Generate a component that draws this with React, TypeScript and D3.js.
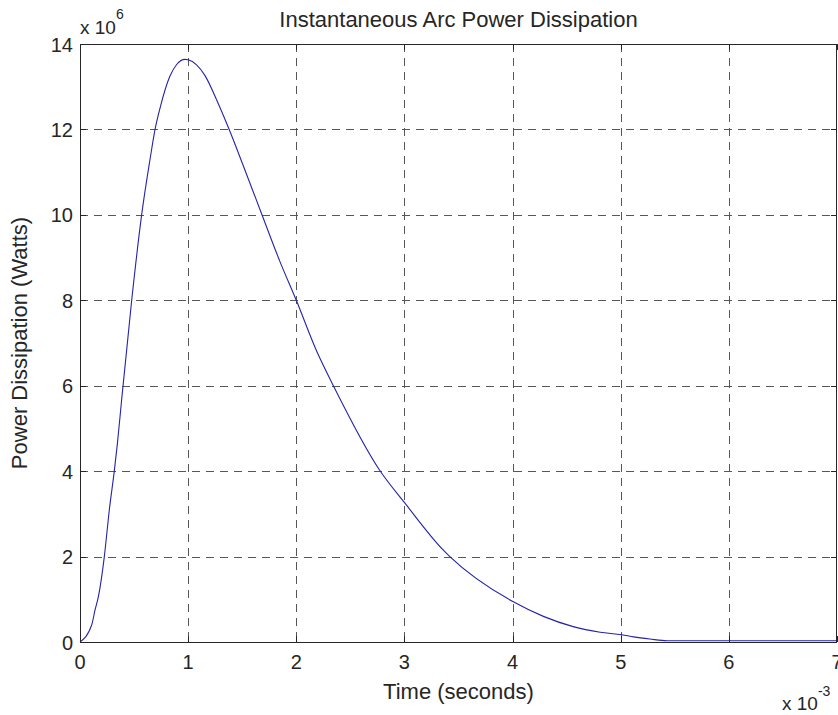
import React, { useEffect, useRef } from 'react';
import * as d3 from 'd3';

// time in units of 1e-3 s, power in units of 1e6 W
const timeMs: number[] = [
  0, 0.108, 0.139, 0.17, 0.225, 0.271, 0.317, 0.346, 0.385, 0.478, 0.57, 0.647, 0.694, 0.74,
  0.832, 0.894, 0.97, 1.0, 1.156, 1.279, 1.387, 1.51, 1.68, 1.85, 2.0, 2.19, 2.343, 2.774,
  3.005, 3.36, 3.42, 4.007, 4.285, 4.56, 4.81, 5.01, 5.12, 5.27, 5.43, 7.0,
];
const powerMW: number[] = [
  0, 0.4, 0.75, 1.06, 2.0, 3.09, 4.0, 4.65, 5.67, 8.0, 10.0, 11.29, 12.0, 12.5,
  13.25, 13.52, 13.64, 13.63, 13.26, 12.6, 11.95, 11.15, 10.02, 8.9, 8.0, 6.8, 6.0, 4.01,
  3.25, 2.15, 2.0, 0.94, 0.6, 0.36, 0.23, 0.17, 0.12, 0.07, 0.03, 0.03,
];
const xTicks: number[] = [0, 1, 2, 3, 4, 5, 6, 7];
const yTicks: number[] = [0, 2, 4, 6, 8, 10, 12, 14];

const title = 'Instantaneous Arc Power Dissipation';
const xLabel = 'Time (seconds)';
const yLabel = 'Power Dissipation (Watts)';

const W = 838;
const H = 715;
const FONT = '"Liberation Sans", Arial, sans-serif';

const App: React.FC = () => {
  const svgRef = useRef<SVGSVGElement>(null);

  useEffect(() => {
    if (!svgRef.current) return;
    const svg = d3.select(svgRef.current);
    svg.selectAll('*').remove();

    const left = 80;
    const right = 837;
    const top = 44;
    const bottom = 642;

    const x = d3.scaleLinear().domain([0, 7]).range([left, right]);
    const y = d3.scaleLinear().domain([0, 14]).range([bottom, top]);

    svg.append('rect').attr('width', W).attr('height', H).attr('fill', '#fff');

    // grid
    const grid = svg.append('g').attr('stroke', '#3a3a3a').attr('stroke-width', 1)
      .attr('stroke-dasharray', '8,6').attr('opacity', 0.85);
    grid.selectAll('.gx').data(xTicks.slice(1, -1)).enter().append('line')
      .attr('x1', (d) => Math.round(x(d)) + 0.5).attr('x2', (d) => Math.round(x(d)) + 0.5)
      .attr('y1', top).attr('y2', bottom);
    grid.selectAll('.gy').data(yTicks.slice(1, -1)).enter().append('line')
      .attr('y1', (d) => Math.round(y(d)) + 0.5).attr('y2', (d) => Math.round(y(d)) + 0.5)
      .attr('x1', left).attr('x2', right);

    // curve
    const line = d3.line<number>()
      .x((_d, i) => x(timeMs[i]))
      .y((d) => y(d))
      .curve(d3.curveMonotoneX);
    svg.append('path').datum(powerMW).attr('d', line)
      .attr('fill', 'none').attr('stroke', '#2424a8').attr('stroke-width', 1.1);

    // ticks (inward, all sides)
    const ticks = svg.append('g').attr('stroke', '#262626').attr('stroke-width', 1);
    const tl = 6;
    xTicks.forEach((t) => {
      const px = Math.round(x(t)) + 0.5;
      ticks.append('line').attr('x1', px).attr('x2', px).attr('y1', bottom).attr('y2', bottom - tl);
      ticks.append('line').attr('x1', px).attr('x2', px).attr('y1', top).attr('y2', top + tl);
    });
    yTicks.forEach((t) => {
      const py = Math.round(y(t)) + 0.5;
      ticks.append('line').attr('y1', py).attr('y2', py).attr('x1', left).attr('x2', left + tl);
      ticks.append('line').attr('y1', py).attr('y2', py).attr('x1', right).attr('x2', right - tl);
    });

    // box
    svg.append('rect').attr('x', left + 0.5).attr('y', top + 0.5)
      .attr('width', right - left - 1).attr('height', bottom - top)
      .attr('fill', 'none').attr('stroke', '#262626').attr('stroke-width', 1);

    const txt = svg.append('g').attr('font-family', FONT).attr('fill', '#262626');

    // tick labels
    txt.selectAll('.xl').data(xTicks).enter().append('text')
      .attr('x', (d) => x(d)).attr('y', 669)
      .attr('text-anchor', 'middle').attr('font-size', 20)
      .text((d) => String(d));
    txt.selectAll('.yl').data(yTicks).enter().append('text')
      .attr('x', 73).attr('y', (d) => y(d) + 7.5)
      .attr('text-anchor', 'end').attr('font-size', 20)
      .text((d) => String(d));

    // exponent labels
    const e1 = txt.append('text').attr('x', 80).attr('y', 34).attr('font-size', 19);
    e1.append('tspan').text('x 10');
    e1.append('tspan').attr('dy', -15).attr('font-size', 14).text('6');

    const e2 = txt.append('text').attr('x', 782).attr('y', 710).attr('font-size', 19);
    e2.append('tspan').text('x 10');
    e2.append('tspan').attr('dy', -14).attr('font-size', 14).text('-3');

    // title & axis labels
    txt.append('text').attr('x', (left + right) / 2).attr('y', 27)
      .attr('text-anchor', 'middle').attr('font-size', 22).text(title);
    txt.append('text').attr('x', (left + right) / 2).attr('y', 699)
      .attr('text-anchor', 'middle').attr('font-size', 22).text(xLabel);
    txt.append('text')
      .attr('transform', `translate(27,${(top + bottom) / 2}) rotate(-90)`)
      .attr('text-anchor', 'middle').attr('font-size', 22).text(yLabel);
  }, []);

  return (
    <svg
      ref={svgRef}
      width={W}
      height={H}
      style={{ position: 'absolute', left: 0, top: 0, display: 'block' }}
    />
  );
};

export default App;
